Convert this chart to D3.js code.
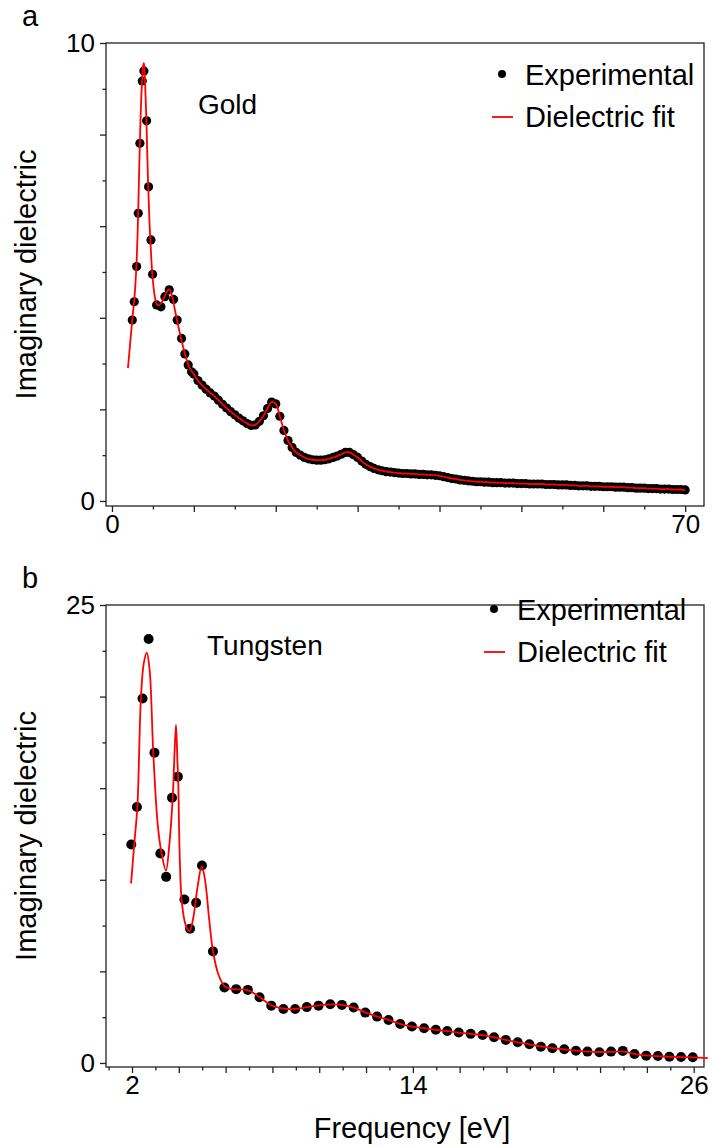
<!DOCTYPE html>
<meta charset="utf-8">
<head>
  <title>Imaginary dielectric: gold and tungsten</title>
</head>

<style>
  body { margin: 0; background: #fff; }
  svg text { font-family: "Liberation Sans", Arial, sans-serif; fill: #000; }
  .axis path, .axis line { stroke: #222; stroke-width: 1.3; }
  .axis text { font-size: 26px; }
</style>

<body>
  <svg width="712" height="1147"></svg>

  <script src="https://cdnjs.cloudflare.com/ajax/libs/d3/7.8.5/d3.min.js"></script>

  <script>
  // ---- gold (panel a) ----
  var goldX = [2.48, 2.72, 3.01, 3.21, 3.41, 3.70, 3.90, 4.23, 4.47, 4.76, 4.96, 5.45, 5.98, 6.46, 6.99, 7.52, 7.96, 8.50, 8.90, 9.31, 9.72,
    10.0, 10.5, 11.0, 11.5, 12.0, 12.5, 13.0, 13.5, 14.0, 14.5, 15.0, 15.5, 16.0, 16.5, 17.0, 17.5, 18.0, 18.5, 19.0, 19.5,
    20.0, 20.5, 21.0, 21.5, 22.0, 22.5, 23.0, 23.5, 24.0, 24.5, 25.0, 25.5, 26.0, 26.5, 27.0, 27.5, 28.0, 28.5, 29.0, 29.5,
    30.0, 30.5, 31.0, 31.5, 32.0, 32.5, 33.0, 33.5, 34.0, 34.5, 35.0, 35.5, 36.0, 36.5, 37.0, 37.5, 38.0, 38.5, 39.0, 39.5,
    40.0, 40.5, 41.0, 41.5, 42.0, 42.5, 43.0, 43.5, 44.0, 44.5, 45.0, 45.5, 46.0, 46.5, 47.0, 47.5, 48.0, 48.5, 49.0, 49.5,
    50.0, 50.5, 51.0, 51.5, 52.0, 52.5, 53.0, 53.5, 54.0, 54.5, 55.0, 55.5, 56.0, 56.5, 57.0, 57.5, 58.0, 58.5, 59.0, 59.5,
    60.0, 60.5, 61.0, 61.5, 62.0, 62.5, 63.0, 63.5, 64.0, 64.5, 65.0, 65.5, 66.0, 66.5, 67.0, 67.5, 68.0, 68.5, 69.0, 69.5, 70.0];
  var goldY = [3.95, 4.35, 5.12, 6.28, 7.81, 9.17, 9.39, 8.30, 6.86, 5.70, 4.95, 4.28, 4.24, 4.46, 4.61, 4.40, 3.95, 3.55, 3.21, 2.97, 2.82,
    2.77, 2.63, 2.53, 2.44, 2.36, 2.29, 2.20, 2.11, 2.03, 1.95, 1.88, 1.81, 1.75, 1.69, 1.65, 1.66, 1.74, 1.86, 2.02, 2.16,
    2.12, 1.85, 1.54, 1.32, 1.17, 1.06, 1.00, 0.95, 0.92, 0.90, 0.89, 0.89, 0.90, 0.92, 0.95, 0.98, 1.02, 1.06, 1.06, 1.01,
    0.95, 0.87, 0.80, 0.75, 0.71, 0.68, 0.66, 0.64, 0.63, 0.62, 0.61, 0.60, 0.60, 0.59, 0.59, 0.58, 0.58, 0.57, 0.57, 0.56,
    0.55, 0.53, 0.51, 0.49, 0.48, 0.46, 0.45, 0.44, 0.43, 0.42, 0.42, 0.41, 0.41, 0.40, 0.40, 0.40, 0.39, 0.39, 0.39, 0.38,
    0.38, 0.38, 0.37, 0.37, 0.37, 0.37, 0.36, 0.36, 0.36, 0.35, 0.35, 0.35, 0.34, 0.34, 0.33, 0.33, 0.33, 0.32, 0.32, 0.32,
    0.31, 0.31, 0.31, 0.30, 0.30, 0.30, 0.29, 0.29, 0.28, 0.28, 0.28, 0.27, 0.27, 0.27, 0.26, 0.26, 0.26, 0.25, 0.25, 0.25, 0.24];

  // fit below 10 eV; above that it sits on the measured points
  var goldFitX = [1.95, 2.2, 2.5, 2.75, 3.0, 3.2, 3.4, 3.6, 3.8, 3.9, 4.0, 4.2, 4.4, 4.6, 4.8, 5.0, 5.3, 5.6, 6.0, 6.4, 6.8, 7.0, 7.3, 7.6, 8.0, 8.5, 9.0, 9.5];
  var goldFitY = [2.9, 3.4, 4.0, 4.45, 5.2, 6.3, 7.8, 8.9, 9.5, 9.56, 9.3, 8.3, 7.0, 6.0, 5.3, 4.8, 4.4, 4.27, 4.32, 4.45, 4.6, 4.62, 4.5, 4.25, 3.9, 3.5, 3.15, 2.9];

  // ---- tungsten (panel b) ----
  var tungX = [1.97, 2.21, 2.45, 2.71, 2.96, 3.21, 3.46, 3.71, 3.96, 4.24, 4.48, 4.74, 4.99, 5.46, 5.95, 6.45, 6.95, 7.45, 7.95,
    8.47, 8.97, 9.47, 9.97, 10.47, 10.97, 11.47, 11.97, 12.47, 12.96, 13.46, 13.96, 14.48, 14.98, 15.47, 15.96, 16.47, 16.98,
    17.47, 17.97, 18.48, 18.98, 19.47, 19.96, 20.47, 20.97, 21.46, 21.97, 22.47, 22.97, 23.47, 23.97, 24.47, 24.96, 25.46, 25.96];
  var tungY = [11.93, 13.97, 19.9, 23.14, 16.94, 11.43, 10.16, 14.48, 15.63, 8.92, 7.33, 8.75, 10.78, 6.09, 4.12, 4.03, 3.99, 3.59, 3.13,
    2.95, 2.95, 3.05, 3.13, 3.21, 3.17, 3.03, 2.75, 2.53, 2.35, 2.13, 1.99, 1.90, 1.81, 1.75, 1.66, 1.59, 1.53,
    1.40, 1.26, 1.13, 1.02, 0.89, 0.80, 0.75, 0.67, 0.62, 0.59, 0.62, 0.66, 0.49, 0.40, 0.38, 0.34, 0.33, 0.31];

  var tungFitX = [1.96, 2.1, 2.23, 2.38, 2.5, 2.63, 2.75, 2.91, 3.1, 3.27, 3.45, 3.6, 3.74, 3.82, 3.88, 3.94, 3.97, 4.12, 4.3, 4.45,
    4.6, 4.8, 4.98, 5.12, 5.3, 5.46, 5.7, 5.95, 6.2, 6.45, 6.95, 7.45, 7.95, 8.47, 8.97, 9.47, 9.97, 10.47, 10.97, 11.47, 11.97,
    12.47, 12.96, 13.46, 13.96, 14.48, 14.98, 15.47, 15.96, 16.47, 16.98, 17.47, 17.97, 18.48, 18.98, 19.47, 19.96, 20.47, 20.97,
    21.46, 21.97, 22.47, 22.97, 23.47, 23.97, 24.47, 24.96, 25.46, 25.96, 26.6];
  var tungFitY = [9.8, 12.0, 14.0, 19.9, 21.8, 22.4, 21.5, 16.9, 13.0, 11.4, 10.5, 12.0, 14.5, 17.0, 18.45, 16.5, 15.6, 8.9, 7.5, 7.2,
    7.8, 9.6, 10.74, 10.0, 7.8, 6.1, 4.8, 4.2, 4.05, 4.02, 3.98, 3.6, 3.15, 2.97, 2.95, 3.05, 3.14, 3.2, 3.17, 3.02, 2.76,
    2.53, 2.35, 2.14, 1.99, 1.9, 1.81, 1.74, 1.66, 1.59, 1.52, 1.4, 1.26, 1.13, 1.02, 0.9, 0.81, 0.74, 0.67,
    0.62, 0.6, 0.61, 0.63, 0.5, 0.41, 0.37, 0.34, 0.32, 0.31, 0.27];

  var legendLabels = ['Experimental', 'Dielectric fit'];

  var svg = d3.select('svg');

  var panels = [
    {
      letter: 'a', name: 'Gold',
      ex: goldX, ey: goldY,
      fx: goldFitX.concat(goldX.slice(21)), fy: goldFitY.concat(goldY.slice(21)),
      xdom: [-0.73, 72.3], ydom: [-0.11, 10],
      left: 106, right: 704, top: 43, bottom: 506,
      xMajor: d3.range(0, 71, 10), xMinor: d3.range(5, 71, 10), xLabels: [0, 70],
      yMajor: d3.range(0, 11, 2), yMinor: d3.range(1, 10, 2), yLabels: [0, 10],
      r: 4.6,
      nameXY: [198, 114], legX: 502, legY: 74, legTextX: 525,
      letterY: 26
    },
    {
      letter: 'b', name: 'Tungsten',
      ex: tungX, ey: tungY,
      fx: tungFitX, fy: tungFitY,
      xdom: [0.889, 26.44], ydom: [-0.22, 25],
      left: 106, right: 704, top: 605, bottom: 1067,
      xMajor: d3.range(2, 27, 2), xMinor: d3.range(1, 27, 2), xLabels: [2, 14, 26],
      yMajor: d3.range(0, 26, 5), yMinor: d3.range(2.5, 25, 5), yLabels: [0, 25],
      r: 5,
      nameXY: [207, 655], legX: 494, legY: 609, legTextX: 517,
      letterY: 588
    }
  ];

  panels.forEach(function(p) {
    var x = d3.scaleLinear().domain(p.xdom).range([p.left, p.right]);
    var y = d3.scaleLinear().domain(p.ydom).range([p.bottom, p.top]);
    var g = svg.append('g');

    // frame
    g.append('rect')
      .attr('x', p.left).attr('y', p.top)
      .attr('width', p.right - p.left).attr('height', p.bottom - p.top)
      .attr('fill', 'none').attr('stroke', '#222').attr('stroke-width', 1.3);

    // minor ticks
    g.append('g').attr('class', 'axis')
      .attr('transform', 'translate(0,' + p.bottom + ')')
      .call(d3.axisBottom(x).tickValues(p.xMinor).tickSize(3.5).tickSizeOuter(0).tickFormat(''));
    g.append('g').attr('class', 'axis')
      .attr('transform', 'translate(' + p.left + ',0)')
      .call(d3.axisLeft(y).tickValues(p.yMinor).tickSize(3.5).tickSizeOuter(0).tickFormat(''));

    // major ticks with a few labels
    g.append('g').attr('class', 'axis')
      .attr('transform', 'translate(0,' + p.bottom + ')')
      .call(d3.axisBottom(x).tickValues(p.xMajor).tickSize(6).tickSizeOuter(0).tickPadding(3)
        .tickFormat(function(d) { return p.xLabels.indexOf(d) >= 0 ? d : ''; }));
    g.append('g').attr('class', 'axis')
      .attr('transform', 'translate(' + p.left + ',0)')
      .call(d3.axisLeft(y).tickValues(p.yMajor).tickSize(6).tickSizeOuter(0).tickPadding(5)
        .tickFormat(function(d) { return p.yLabels.indexOf(d) >= 0 ? d : ''; }));

    g.selectAll('.axis .domain').remove();

    // experimental points
    g.append('g').selectAll('circle')
      .data(p.ex)
      .enter().append('circle')
      .attr('cx', function(d) { return x(d); })
      .attr('cy', function(d, i) { return y(p.ey[i]); })
      .attr('r', p.r)
      .attr('fill', '#000');

    // fit
    var line = d3.line()
      .x(function(d) { return x(d); })
      .y(function(d, i) { return y(p.fy[i]); })
      .curve(d3.curveCatmullRom.alpha(0.5));
    g.append('path')
      .datum(p.fx)
      .attr('d', line)
      .attr('fill', 'none')
      .attr('stroke', '#ff0000')
      .attr('stroke-width', 1.8);

    // labels
    g.append('text').attr('x', 22).attr('y', p.letterY).style('font-size', '29px').text(p.letter);
    g.append('text').attr('x', p.nameXY[0]).attr('y', p.nameXY[1]).style('font-size', '28px').text(p.name);
    g.append('text')
      .attr('transform', 'translate(36,' + ((p.top + p.bottom) / 2) + ') rotate(-90)')
      .attr('text-anchor', 'middle')
      .style('font-size', '29px')
      .text('Imaginary dielectric');

    // legend
    g.append('circle').attr('cx', p.legX).attr('cy', p.legY).attr('r', 4).attr('fill', '#000');
    g.append('text').attr('x', p.legTextX).attr('y', p.legY + 11).style('font-size', '29px').text(legendLabels[0]);
    g.append('line')
      .attr('x1', p.legX - 10).attr('x2', p.legX + 11)
      .attr('y1', p.legY + 43).attr('y2', p.legY + 43)
      .attr('stroke', '#ff0000').attr('stroke-width', 1.8);
    g.append('text').attr('x', p.legTextX).attr('y', p.legY + 53).style('font-size', '29px').text(legendLabels[1]);
  });

  svg.append('text')
    .attr('x', 412).attr('y', 1138)
    .attr('text-anchor', 'middle')
    .style('font-size', '29px')
    .text('Frequency [eV]');
  </script>
</body>
</html>
